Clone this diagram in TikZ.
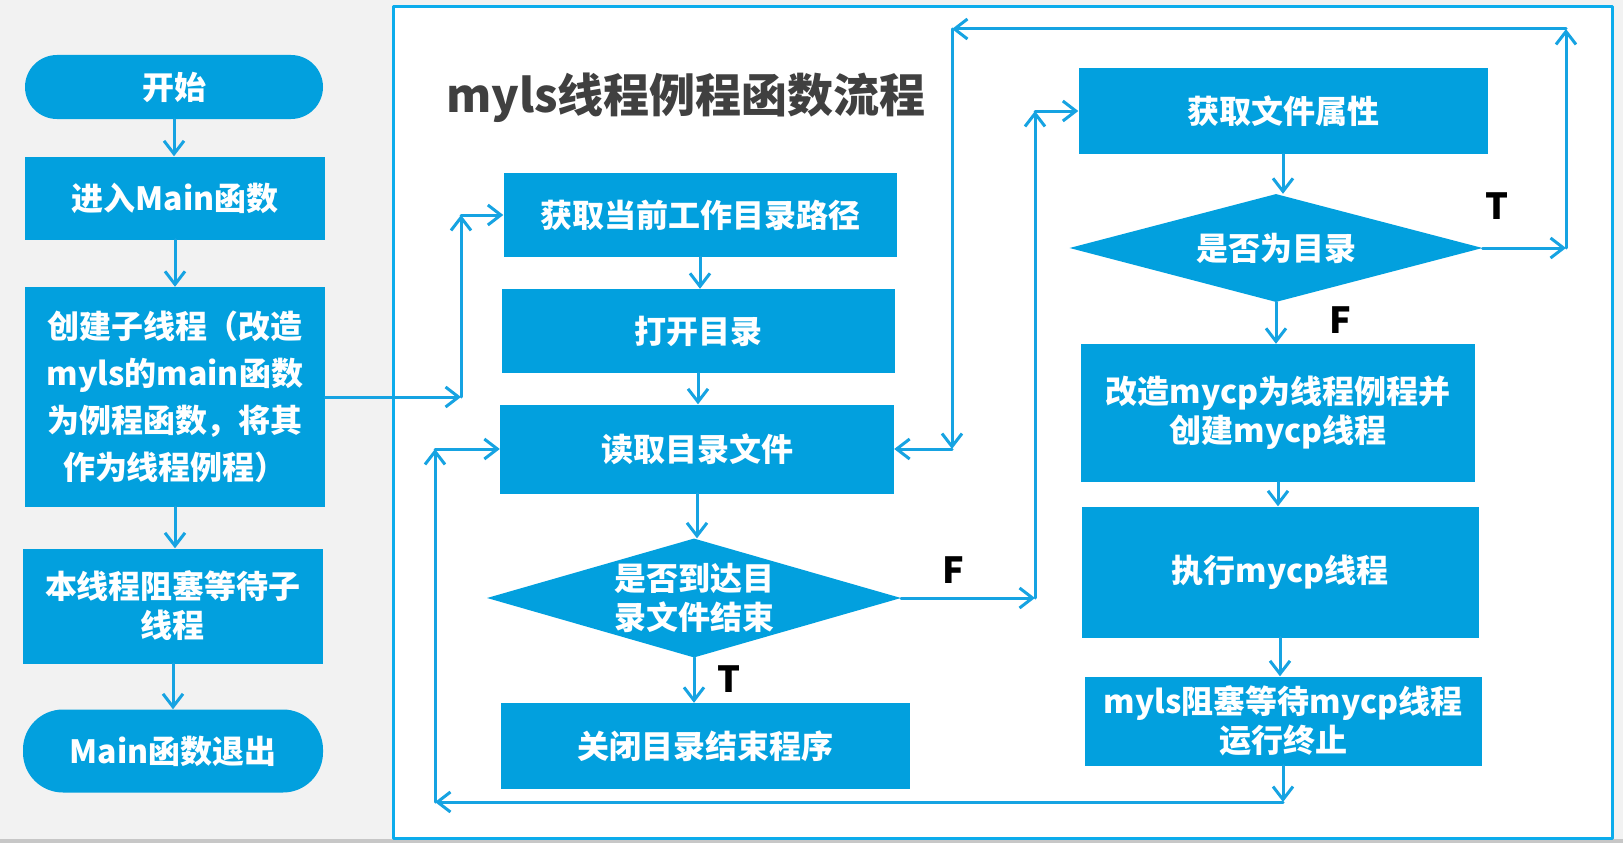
\documentclass[tikz,border=0pt]{standalone}
\usepackage{fontspec}
\setmainfont{Noto Sans CJK SC}
\usetikzlibrary{arrows.meta,shapes.geometric}
\definecolor{boxblue}{RGB}{2,160,222}
\definecolor{lineblue}{RGB}{22,163,226}
\definecolor{framblue}{RGB}{12,172,236}
\definecolor{papergray}{RGB}{242,242,242}
\definecolor{titlegray}{RGB}{64,64,64}
\begin{document}
\begin{tikzpicture}[x=1pt,y=-1pt,line cap=round,line join=round,
  >={Straight Barb[length=13pt,width=20pt]},
  box/.style={fill=boxblue,text=white,align=center,inner sep=0pt,
              font=\fontsize{32}{39}\selectfont\bfseries},
  oval/.style={box,rounded corners=32pt},
  decide/.style={fill=boxblue,diamond,inner sep=0pt},
  words/.style={text=white,align=center,inner sep=0pt,
              font=\fontsize{32}{39}\selectfont\bfseries},
  flow/.style={->,draw=lineblue,line width=3pt},
  tf/.style={font=\fontsize{36}{40}\selectfont\bfseries,text=black},
  title/.style={font=\fontsize{46}{50}\selectfont\bfseries,text=titlegray}]
\useasboundingbox (0,0) rectangle (1623,843);
\fill[papergray] (0,0) rectangle (1623,843);
\fill[black!22] (0,839) rectangle (1623,843);
\filldraw[fill=white,draw=framblue,line width=3pt] (393,7) rectangle (1612,838);
\node[title] (ttl) at (686,98) {myls线程例程函数流程};
\node[oval,minimum width=298,minimum height=64] (start) at (174,87) {开始};
\node[box,minimum width=300,minimum height=83] (enter) at (175,198) {进入Main函数};
\node[box,minimum width=300,minimum height=220,font=\fontsize{32}{47}\selectfont\bfseries]
  (create) at (175,397) {创建子线程（改造\\myls的main函数\\为例程函数，将其\\作为线程例程）};
\node[box,minimum width=300,minimum height=115] (wait) at (173,606) {本线程阻塞等待子\\线程};
\node[oval,minimum width=300,minimum height=83,rounded corners=40pt] (exit) at (173,751) {Main函数退出};
\node[box,minimum width=393,minimum height=84] (cwd) at (700,215) {获取当前工作目录路径};
\node[box,minimum width=393,minimum height=84] (opendir) at (698,331) {打开目录};
\node[box,minimum width=394,minimum height=89] (readdir) at (697,449) {读取目录文件};
\node[decide,minimum width=414,minimum height=119] (isend) at (694,598) {};
\node[words] (isendtxt) at (isend) {是否到达目\\录文件结束};
\node[box,minimum width=409,minimum height=86] (close) at (705,746) {关闭目录结束程序};
\node[box,minimum width=409,minimum height=86] (stat) at (1283,111) {获取文件属性};
\node[decide,minimum width=413,minimum height=108] (isdir) at (1276,248) {};
\node[words] (isdirtxt) at (isdir) {是否为目录};
\node[box,minimum width=394,minimum height=138] (mycp) at (1278,413) {改造mycp为线程例程并\\创建mycp线程};
\node[box,minimum width=397,minimum height=131] (runcp) at (1280,572) {执行mycp线程};
\node[box,minimum width=397,minimum height=89] (joincp) at (1283,721) {myls阻塞等待mycp线程\\运行终止};
\node[tf] (lf1) at (953,570) {F};
\node[tf] (lt1) at (729,679) {T};
\node[tf] (lt2) at (1497,206) {T};
\node[tf] (lf2) at (1340,320) {F};
\foreach \a/\b in {start/enter,enter/create,create/wait,wait/exit,
                   cwd/opendir,opendir/readdir,readdir/isend,isend/close,
                   stat/isdir,isdir/mycp,mycp/runcp,runcp/joincp}
  \draw[flow] (\a.south) -- (\a.south |- \b.north);
\coordinate (j1) at (461,0);
\draw[flow] (create.east) -- (create.east -| j1);
\draw[flow] (create.east -| j1) -- (j1 |- cwd.west);
\draw[flow] (j1 |- cwd.west) -- (cwd.west);
\coordinate (b1) at (1283,802);
\coordinate (b2) at (435,802);
\draw[flow] (joincp.south) -- (b1);
\draw[flow] (b1) -- (b2);
\draw[flow] (b2) -- (b2 |- readdir.west);
\draw[flow] (b2 |- readdir.west) -- (readdir.west);
\coordinate (r1) at (1035,0);
\draw[flow] (isend.east) -- (isend.east -| r1);
\draw[flow] (isend.east -| r1) -- (r1 |- stat.west);
\draw[flow] (r1 |- stat.west) -- (stat.west);
\coordinate (t1) at (1566,29);
\coordinate (t2) at (952,29);
\draw[flow] (isdir.east) -- (isdir.east -| t1);
\draw[flow] (isdir.east -| t1) -- (t1);
\draw[flow] (t1) -- (t2);
\draw[flow] (t2) -- (t2 |- readdir.east);
\draw[flow] (t2 |- readdir.east) -- (readdir.east);
\end{tikzpicture}
\end{document}
